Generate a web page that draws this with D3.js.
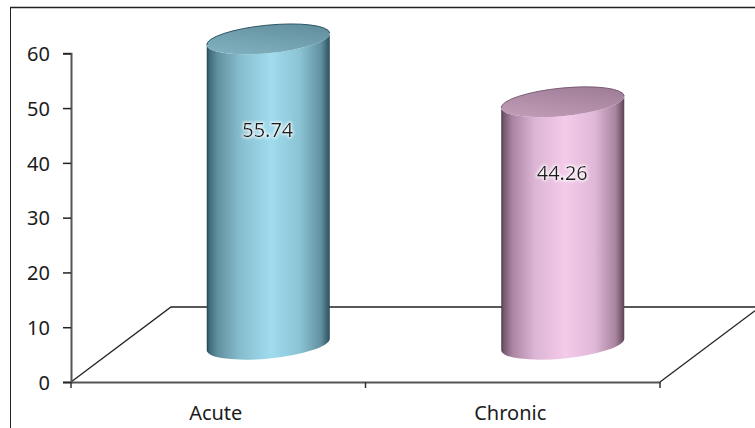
<!DOCTYPE html>
<html>
<head>
<meta charset="utf-8">
<script src="https://cdnjs.cloudflare.com/ajax/libs/d3/7.8.5/d3.min.js"></script>
<style>
    body { margin: 0; background: #fff; }
    svg { display: block; }
    text { font-family: "Noto Sans", sans-serif; fill: #1c1c1c; }
    .tick text { font-size: 20px; }
</style>
</head>
<body>
<svg id="chart" width="755" height="428"></svg>
<script>
const categories = ["Acute", "Chronic"];
const values = [55.74, 44.26];
const yTicks = [0, 10, 20, 30, 40, 50, 60];
const bodyStops = [0, 0.02, 0.09, 0.27, 0.52, 0.76, 0.93, 0.99, 1];
const bodyColors = [
    ["#1f3f4c", "#3f6a7a", "#62919f", "#86bdce", "#a0dcee", "#8ac3d4", "#62909f", "#33596a", "#1f3f4c"],
    ["#4f3a4b", "#77586f", "#aa84a3", "#dcb4d4", "#f4cbe9", "#e0b7d7", "#a8839f", "#6a4e63", "#4f3a4b"]
];
const topColors = [["#86b6c5", "#5c8998"], ["#c6a1bc", "#9a7892"]];
const rimColors = ["#2f5564", "#7a5c73"];

var svg = d3.select("#chart");
var margin = { left: 71, right: 660, bottom: 382, top: 53.3 };
var depth = { x: 100, y: 75 };

var xScale = d3.scaleBand().domain(categories).range([margin.left, margin.right]);
var yScale = d3.scaleLinear().domain([0, 60]).range([margin.bottom, margin.top]);

// Chart frame, open at right and bottom because the picture is cropped there
svg.append("path")
    .attr("d", "M10.5,428V8")
    .attr("fill", "none")
    .attr("stroke", "#222");
svg.append("path")
    .attr("d", "M10,7.5H755")
    .attr("fill", "none")
    .attr("stroke", "#222")
    .attr("stroke-width", 1.5);

// Floor of the 3D plot
svg.append("path")
    .attr("d", `M${margin.left},${margin.bottom}L${margin.left + depth.x},${margin.bottom - depth.y}H755`)
    .attr("fill", "none")
    .attr("stroke", "#222")
    .attr("stroke-width", 1.3);
svg.append("path")
    .attr("d", `M${margin.right},${margin.bottom}L755,${margin.bottom - depth.y * 0.95}`)
    .attr("fill", "none")
    .attr("stroke", "#222")
    .attr("stroke-width", 1.3);

// Axes
var yAxis = svg.append("g")
    .attr("transform", `translate(${margin.left},0)`)
    .call(d3.axisLeft(yScale).tickValues(yTicks).tickSize(8).tickPadding(13));
var xAxis = svg.append("g")
    .attr("transform", `translate(0,${margin.bottom})`)
    .call(d3.axisBottom(xScale).tickSize(0).tickPadding(24));
[yAxis, xAxis].forEach(function (g) {
    g.select(".domain").attr("stroke", "#555").attr("stroke-width", 2);
    g.selectAll("line").attr("stroke", "#222").attr("stroke-width", 1.5);
});
xAxis.selectAll(".tick text").attr("dx", -2.5);
yAxis.selectAll(".tick text").attr("dy", "0.36em");

// Category ticks sit on the band edges
svg.append("g").selectAll("line")
    .data([margin.left, (margin.left + margin.right) / 2, margin.right])
    .join("line")
    .attr("x1", d => d).attr("x2", d => d)
    .attr("y1", margin.bottom).attr("y2", margin.bottom + 6)
    .attr("stroke", "#333").attr("stroke-width", 1.5);

// Gradients
var defs = svg.append("defs");
var glow = defs.append("filter").attr("id", "glow")
    .attr("x", "-20%").attr("y", "-30%").attr("width", "140%").attr("height", "160%");
glow.append("feMorphology").attr("in", "SourceAlpha").attr("operator", "dilate").attr("radius", 1).attr("result", "fat");
glow.append("feGaussianBlur").attr("in", "fat").attr("stdDeviation", 1.6).attr("result", "blur");
glow.append("feFlood").attr("flood-color", "#fff").attr("flood-opacity", 0.85);
glow.append("feComposite").attr("in2", "blur").attr("operator", "in").attr("result", "halo");
var glowMerge = glow.append("feMerge");
glowMerge.append("feMergeNode").attr("in", "halo");
glowMerge.append("feMergeNode").attr("in", "SourceGraphic");

categories.forEach(function (c, i) {
    var g = defs.append("linearGradient").attr("id", "body" + i);
    bodyStops.forEach(function (o, j) {
        g.append("stop").attr("offset", o).attr("stop-color", bodyColors[i][j]);
    });
    var t = defs.append("linearGradient").attr("id", "top" + i)
        .attr("x1", 0).attr("y1", 1).attr("x2", 1).attr("y2", 0);
    t.append("stop").attr("offset", 0).attr("stop-color", topColors[i][0]);
    t.append("stop").attr("offset", 1).attr("stop-color", topColors[i][1]);
});

// Cylinders stand in the middle of the floor depth
var halfW = 61.5, tilt = 6, ry = 14;
var rx = Math.sqrt(halfW * halfW + tilt * tilt);
var rot = -Math.atan(tilt / halfW) * 180 / Math.PI;
var baseShift = depth.y / 2;

var bars = svg.append("g").selectAll("g")
    .data(categories)
    .join("g")
    .attr("transform", d => `translate(${xScale(d) + xScale.bandwidth() / 2 + depth.x / 2},0)`);

bars.append("path")
    .attr("fill", (d, i) => `url(#body${i})`)
    .attr("d", function (d, i) {
        var yTop = yScale(values[i]) - baseShift;
        var yBase = yScale(0) - baseShift;
        return `M${-halfW},${yTop + tilt}V${yBase + tilt}`
            + `A${rx},${ry} ${rot} 0 0 ${halfW},${yBase - tilt}`
            + `V${yTop - tilt}`
            + `A${rx},${ry} ${rot} 0 1 ${-halfW},${yTop + tilt}Z`;
    });

bars.append("ellipse")
    .attr("rx", rx)
    .attr("ry", ry)
    .attr("fill", (d, i) => `url(#top${i})`)
    .attr("transform", (d, i) => `translate(0,${yScale(values[i]) - baseShift}) rotate(${rot})`);

// Dark rim along the back edge of the top face
bars.append("path")
    .attr("fill", "none")
    .attr("stroke", (d, i) => rimColors[i])
    .attr("stroke-width", 1)
    .attr("d", function (d, i) {
        var yTop = yScale(values[i]) - baseShift;
        return `M${-halfW},${yTop + tilt}A${rx},${ry} ${rot} 0 1 ${halfW},${yTop - tilt}`;
    });

// Data labels sit at about two thirds of the cylinder height
bars.append("text")
    .attr("text-anchor", "middle")
    .attr("x", -0.5)
    .attr("y", (d, i) => yScale(values[i] * 0.68) - baseShift)
    .attr("font-size", 20)
    .attr("filter", "url(#glow)")
    .text((d, i) => values[i].toFixed(2));
</script>
</body>
</html>
